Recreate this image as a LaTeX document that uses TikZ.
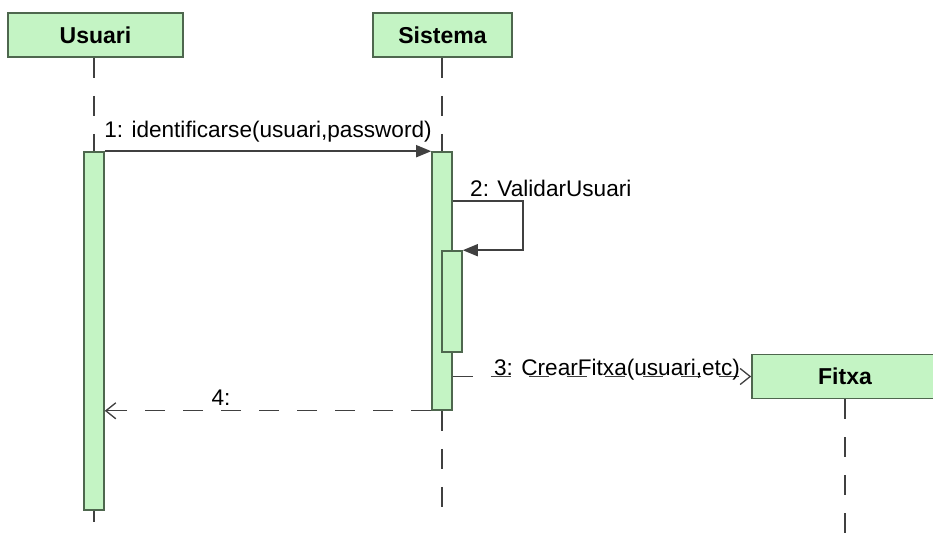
\documentclass[tikz,border=0pt]{standalone}
\usepackage{fontspec}
\setmainfont{Liberation Sans}
\usetikzlibrary{arrows.meta,positioning}
\definecolor{umlfill}{HTML}{C4F4C4}
\definecolor{umlline}{HTML}{4E674E}
\definecolor{msgline}{HTML}{404040}
\tikzset{
  obj/.style={rectangle,draw=umlline,fill=umlfill,line width=1.6pt,minimum height=44pt,inner sep=0pt,font=\fontsize{23}{26}\selectfont\bfseries},
  act/.style={rectangle,draw=umlline,fill=umlfill,line width=1.6pt,minimum width=20pt,inner sep=0pt},
  life/.style={msgline,line width=1.6pt,dash pattern=on 20pt off 18pt},
  msg/.style={-{Triangle[length=15pt,width=12pt]},msgline,line width=1.6pt},
  ret/.style={-{Straight Barb[length=10pt,width=16pt]},msgline,line width=1.3pt,dash pattern=on 20pt off 18pt},
  lbl/.style={font=\fontsize{22.6}{26}\selectfont,inner sep=0pt},
}
\begin{document}
\begin{tikzpicture}[x=1pt,y=-1pt]
        \useasboundingbox (0,0) rectangle (933,535);
        \clip (0,0) rectangle (933,535);
        \fill[white] (0,0) rectangle (933,535);
        % objects
        \node[obj,minimum width=175pt] (usuari)  at (95.5,35)  {Usuari};
        \node[obj,minimum width=139pt] (sistema) at (442.5,35) {Sistema};
        \node[obj,minimum width=186pt] (fitxa)   at (845,376.5) {Fitxa};
        % activations
        \node[act,minimum height=358pt] (actU)  at (94,331)  {};
        \node[act,minimum height=258pt] (actS)  at (442,281) {};
        \node[act,minimum height=101pt] (actS2) at (452,301.5) {};
        \coordinate (endU) at (94,522);
        \coordinate (endS) at (442,522);
        \coordinate (endF) at (845,540);
        % lifelines
        \draw[life] (usuari.south -| actU.north) -- (actU.north);
        \draw[life] (actU.south) -- (endU);
        \draw[life] (sistema.south -| actS.north) -- (actS.north);
        \draw[life] (actS.south) -- (endS);
        \draw[life] (fitxa.south) -- (endF);
        % messages
        \draw[msg] (actU.north east) -- (actS.north west);
        \node[lbl,anchor=base] (m1) at (268,137) {1: identificarse(usuari,password)};
        \draw[msg] ([yshift=-50pt]actS.north east) -- ++(70,0) |- (actS2.north east);
        \node[lbl,anchor=base west] (m2) at (470,196) {2: ValidarUsuari};
        \draw[ret] (actS.east |- fitxa.west) -- (fitxa.west);
        \node[lbl,anchor=base] (m3) at (617,375) {3: CrearFitxa(usuari,etc)};
        \draw[ret] (actS.south west) -- (actU.east |- actS.south);
        \node[lbl,anchor=base] (m4) at (221,405) {4:};
      \end{tikzpicture}
\end{document}
